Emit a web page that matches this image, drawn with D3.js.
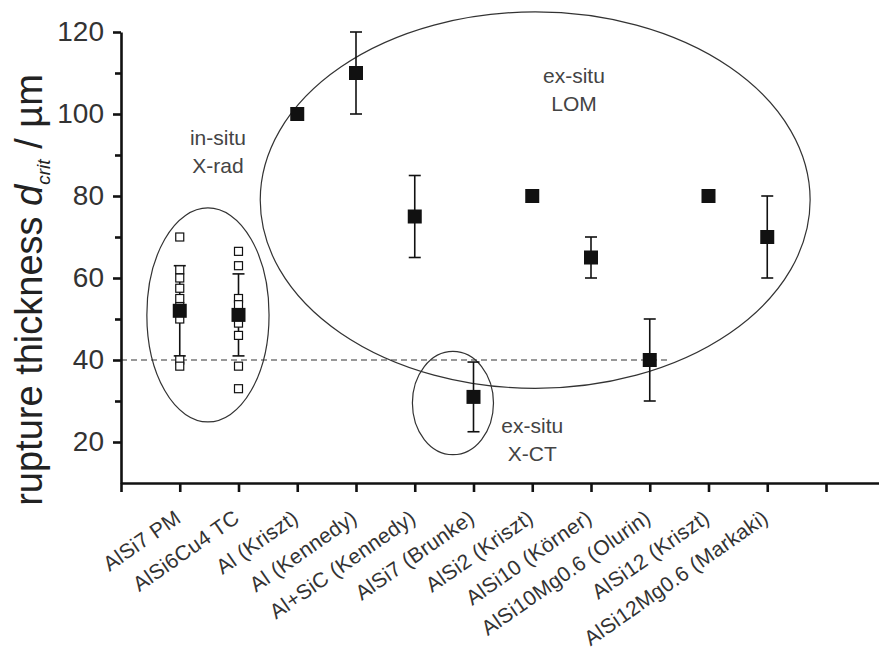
<!DOCTYPE html>
<html>
<head>
	<script src="https://cdn.jsdelivr.net/npm/d3@7/dist/d3.min.js"></script>
	<style>
		body { margin: 0; background: #fff; }
		text { font-family: "Liberation Sans", Arial, Helvetica, sans-serif; }
	</style>
</head>
<body>
	<script>
		// categories on the x axis (positions 1..11)
		var categories = ['AlSi7 PM', 'AlSi6Cu4 TC', 'Al (Kriszt)', 'Al (Kennedy)', 'Al+SiC (Kennedy)',
			'AlSi7 (Brunke)', 'AlSi2 (Kriszt)', 'AlSi10 (Körner)', 'AlSi10Mg0.6 (Olurin)',
			'AlSi12 (Kriszt)', 'AlSi12Mg0.6 (Markaki)'];

		// mean rupture thickness and error (null = no bar)
		var means = [52, 51, 100, 110, 75, 31, 80, 65, 40, 80, 70];
		var errors = [11, 10, null, 10, 10, 8.5, null, 5, 10, null, 10];

		// single in-situ measurements
		var pmSingles = [70, 62, 60, 57.5, 55, 53, 50, 40, 38.5];
		var tcSingles = [66.5, 63, 55, 53.5, 51.5, 49, 46, 38.5, 33];

		var yTicks = [20, 40, 60, 80, 100, 120];
		var yMinor = [30, 50, 70, 90, 110];

		// grouping ellipses [cx, cy, rx, ry] in data units, label anchor [x, y]
		var groups = [
			{ e: [1.48, 51, 1.04, 26.1], lines: ['in-situ', 'X-rad'], at: [1.65, 92.4] },
			{ e: [7.05, 79, 4.68, 45.9], lines: ['ex-situ', 'LOM'], at: [7.71, 107.6] },
			{ e: [5.65, 29.5, 0.69, 12.6], lines: ['ex-situ', 'X-CT'], at: [7.0, 22.2] }
		];
		var threshold = 40;
		var thresholdEnd = 9.3;

		var width = 879, height = 660;
		var x = d3.scaleLinear().domain([0, 13]).range([121, 121 + 13 * 58.75]);
		var y = d3.scaleLinear().domain([10, 120]).range([483, 32]);

		var svg = d3.select('body').append('svg')
			.attr('width', width)
			.attr('height', height);

		// dashed line at 40
		svg.append('line')
			.attr('x1', x(0)).attr('x2', x(thresholdEnd))
			.attr('y1', y(threshold)).attr('y2', y(threshold))
			.attr('stroke', '#777')
			.attr('stroke-width', 1.3)
			.attr('stroke-dasharray', '6,4');

		// ellipses
		svg.selectAll('.grp').data(groups).enter().append('ellipse')
			.attr('class', 'grp')
			.attr('cx', function (d) { return x(d.e[0]); })
			.attr('cy', function (d) { return y(d.e[1]); })
			.attr('rx', function (d) { return x(d.e[2]) - x(0); })
			.attr('ry', function (d) { return y(0) - y(d.e[3]); })
			.attr('fill', 'none')
			.attr('stroke', '#333')
			.attr('stroke-width', 1.2);

		groups.forEach(function (g) {
			var t = svg.append('text')
				.attr('x', x(g.at[0]))
				.attr('y', y(g.at[1]))
				.attr('text-anchor', 'middle')
				.attr('fill', '#444')
				.style('font-size', '21px');
			g.lines.forEach(function (l, i) {
				t.append('tspan').attr('x', x(g.at[0])).attr('dy', i ? 28 : 0).text(l);
			});
		});

		// open squares for single measurements
		function singles(vals, pos) {
			svg.selectAll(null).data(vals).enter().append('rect')
				.attr('x', x(pos) - 4).attr('y', function (d) { return y(d) - 4; })
				.attr('width', 8).attr('height', 8)
				.attr('fill', 'white')
				.attr('stroke', '#111')
				.attr('stroke-width', 1.2);
		}

		// error bars
		var pts = means.map(function (m, i) { return { pos: i + 1, m: m, e: errors[i] }; });
		var withErr = pts.filter(function (d) { return d.e != null; });
		var eb = svg.selectAll('.eb').data(withErr).enter().append('g').attr('class', 'eb')
			.attr('stroke', '#111').attr('stroke-width', 1.6);
		eb.append('line')
			.attr('x1', function (d) { return x(d.pos); }).attr('x2', function (d) { return x(d.pos); })
			.attr('y1', function (d) { return y(d.m + d.e); }).attr('y2', function (d) { return y(d.m - d.e); });
		[1, -1].forEach(function (s) {
			eb.append('line')
				.attr('x1', function (d) { return x(d.pos) - 6; }).attr('x2', function (d) { return x(d.pos) + 6; })
				.attr('y1', function (d) { return y(d.m + s * d.e); }).attr('y2', function (d) { return y(d.m + s * d.e); });
		});

		singles(pmSingles, 1);
		singles(tcSingles, 2);

		// filled mean squares
		svg.selectAll('.mean').data(pts).enter().append('rect')
			.attr('class', 'mean')
			.attr('x', function (d) { return x(d.pos) - 7; })
			.attr('y', function (d) { return y(d.m) - 7; })
			.attr('width', 14).attr('height', 14)
			.attr('fill', '#111');

		// axes
		var yAxis = svg.append('g')
			.attr('transform', 'translate(' + x(0) + ',0)')
			.call(d3.axisLeft(y).tickValues(yTicks).tickSize(8).tickSizeOuter(0).tickPadding(9));
		svg.append('g')
			.attr('transform', 'translate(' + x(0) + ',0)')
			.call(d3.axisLeft(y).tickValues(yMinor).tickSize(6).tickSizeOuter(0).tickFormat(''))
			.select('.domain').remove();
		yAxis.selectAll('text').style('font-size', '28px').attr('fill', '#333');

		var xAxis = svg.append('g')
			.attr('transform', 'translate(0,' + y(10) + ')')
			.call(d3.axisBottom(x).tickValues(d3.range(0, 14)).tickSize(9).tickSizeOuter(0)
				.tickFormat(function (d) { return categories[d - 1] || ''; }));
		xAxis.selectAll('text')
			.style('font-size', '21px')
			.style('letter-spacing', '0.3px')
			.attr('fill', '#333')
			.attr('text-anchor', 'end')
			.attr('dy', 0)
			.attr('y', 0)
			.attr('transform', 'translate(2,38) rotate(-35)');

		svg.selectAll('.domain, .tick line').attr('stroke', '#111').attr('stroke-width', 2.6);

		// y label
		var yl = svg.append('text')
			.attr('transform', 'translate(42,290) rotate(-90)')
			.attr('text-anchor', 'middle')
			.attr('fill', '#222')
			.style('font-size', '38px');
		yl.append('tspan').text('rupture thickness ');
		yl.append('tspan').style('font-style', 'italic').text('d');
		yl.append('tspan').attr('dy', 8).style('font-size', '19px').style('font-style', 'italic').text('crit');
		yl.append('tspan').attr('dy', -8).text(' / \u00b5m');
	</script>
</body>
</html>
